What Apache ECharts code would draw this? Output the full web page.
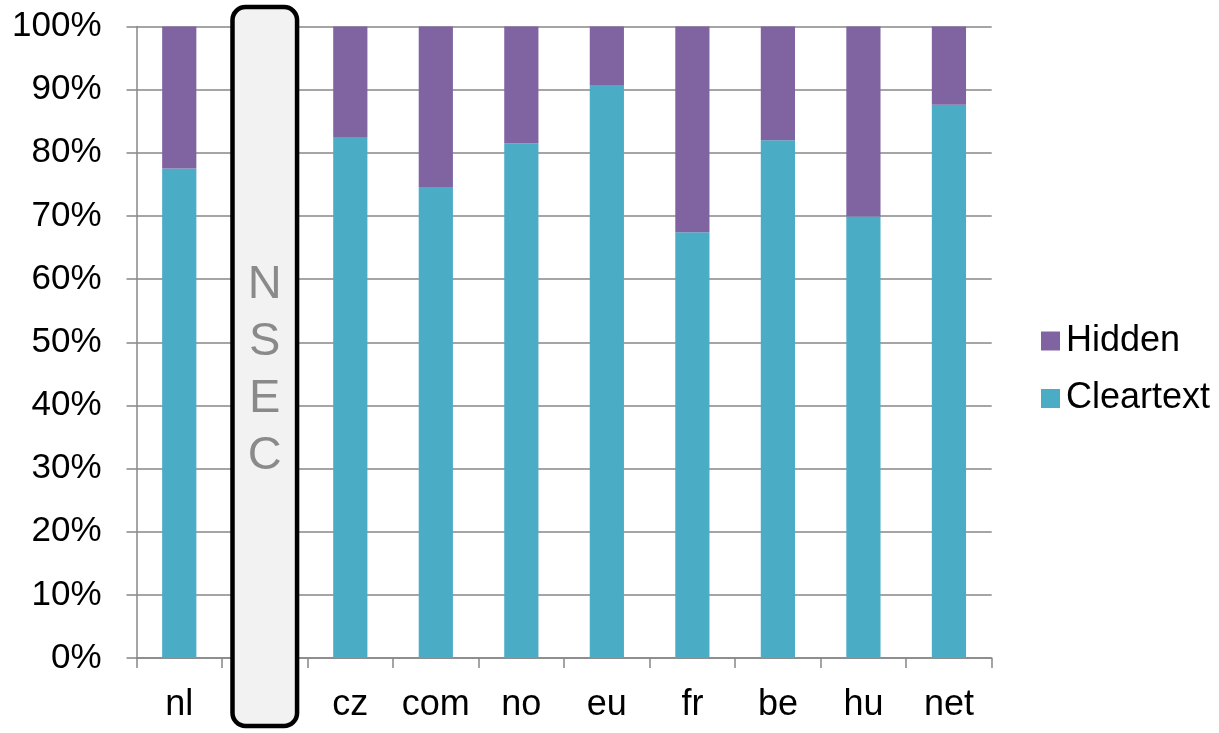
<!DOCTYPE html>
<html>
<head>
<meta charset="utf-8">
<script src="https://cdn.jsdelivr.net/npm/echarts@6/dist/echarts.min.js"></script>
<style>
html,body{margin:0;padding:0;background:#fff;}
#chart{width:1219px;height:733px;}
</style>
</head>
<body>
<div id="chart"></div>
<script>
var categories = ['nl', 'NSEC', 'cz', 'com', 'no', 'eu', 'fr', 'be', 'hu', 'net'];
var cleartext = [77.5, null, 82.4, 74.6, 81.5, 90.6, 67.4, 82.0, 69.9, 87.6];
var hidden = [22.5, null, 17.6, 25.4, 18.5, 9.4, 32.6, 18.0, 30.1, 12.4];
var yTicks = [0, 10, 20, 30, 40, 50, 60, 70, 80, 90, 100];
var nsecLabel = 'NSEC';

var FONT = 'Liberation Sans, Arial, sans-serif';
var GRID = '#878787';

var chart = echarts.init(document.getElementById('chart'), null, {renderer: 'canvas'});

var option = {
  animation: false,
  backgroundColor: '#ffffff',
  textStyle: {fontFamily: FONT},
  grid: {left: 136.5, right: 227.3, top: 26.5, bottom: 75, containLabel: false},
  legend: {
    orient: 'vertical',
    left: 1036,
    top: 318,
    itemWidth: 19,
    itemHeight: 19,
    itemGap: 21.5,
    icon: 'rect',
    data: ['Hidden', 'Cleartext'],
    textStyle: {fontFamily: FONT, fontSize: 36, color: '#000', padding: [0, 0, 0, 1]}
  },
  xAxis: {
    type: 'category',
    data: categories,
    axisLine: {lineStyle: {color: GRID, width: 1.5}},
    axisTick: {show: true, interval: 0, length: 10, alignWithLabel: false, lineStyle: {color: GRID, width: 1.5}},
    axisLabel: {
      interval: 0, hideOverlap: false,
      fontFamily: FONT, fontSize: 36, color: '#000', margin: 29,
      formatter: function (v) { return v === nsecLabel ? '' : v; }
    }
  },
  yAxis: {
    type: 'value',
    min: yTicks[0],
    max: yTicks[yTicks.length - 1],
    interval: yTicks[1] - yTicks[0],
    axisLine: {show: true, lineStyle: {color: GRID, width: 1.5}},
    axisTick: {show: true, length: 10, lineStyle: {color: GRID, width: 1.5}},
    splitLine: {lineStyle: {color: GRID, width: 1.5}},
    axisLabel: {fontFamily: FONT, fontSize: 35, color: '#000', margin: 35, formatter: '{value}%'}
  },
  series: [
    {
      name: 'Cleartext', type: 'bar', stack: 'total', data: cleartext,
      barWidth: '40%', itemStyle: {color: '#4BACC6'}
    },
    {
      name: 'Hidden', type: 'bar', stack: 'total', data: hidden,
      barWidth: '40%', itemStyle: {color: '#8064A2'}
    },
    {
      name: 'nsecBox', type: 'custom', clip: false, z: 10, silent: true,
      data: [[nsecLabel, 100]],
      encode: {x: 0, y: 1},
      renderItem: function (params, api) {
        var top = api.coord([api.value(0), 100]);
        var bottom = api.coord([api.value(0), 0]);
        var band = api.size([1, 0])[0];
        var w = band * 0.755;
        var x = top[0] - w / 2;
        var y0 = top[1] - 19.5;
        var y1 = bottom[1] + 68;
        return {
          type: 'group',
          children: [
            {
              type: 'rect',
              shape: {x: x, y: y0, width: w, height: y1 - y0, r: 13},
              style: {fill: '#F2F2F2', stroke: '#000', lineWidth: 4.5}
            },
            {
              type: 'text',
              style: {
                x: top[0], y: (y0 + y1) / 2 + 4,
                text: nsecLabel.split('').join('\n'),
                fontFamily: FONT, fontSize: 47, lineHeight: 57,
                fill: '#8A8A8A', align: 'center', verticalAlign: 'middle'
              }
            }
          ]
        };
      }
    }
  ]
};
chart.setOption(option);
</script>
</body>
</html>
